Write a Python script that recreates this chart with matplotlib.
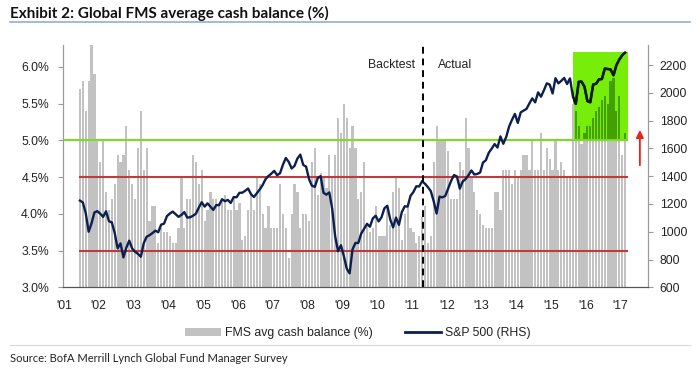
import numpy as np
import pandas as pd
import matplotlib
matplotlib.use("Agg")
import matplotlib.pyplot as plt
from matplotlib.patches import Rectangle, Patch
from matplotlib.lines import Line2D
from matplotlib.ticker import FuncFormatter

# ---------------- data ----------------
first_month = "2001-06"
last_month = "2017-02"

fms_cash = [
    # 2001 Jun-Dec
    5.7, 5.8, 5.4, 5.8, 6.3, 5.9, 5.0,
    # 2002
    4.7, 5.0, 4.3, 4.05, 4.2, 4.4, 4.8, 4.7, 4.8, 5.2, 4.6, 4.4,
    # 2003
    4.2, 4.9, 5.4, 4.6, 4.9, 3.9, 4.1, 4.1, 3.6, 3.8, 3.75, 3.75,
    # 2004
    3.7, 3.6, 3.6, 3.8, 4.5, 3.8, 4.2, 4.2, 4.8, 4.7, 4.4, 4.6,
    # 2005
    3.9, 4.05, 4.3, 4.2, 4.2, 4.15, 4.2, 4.25, 4.05, 4.05, 4.2, 4.05,
    # 2006
    4.15, 3.65, 3.7, 4.05, 4.25, 4.05, 4.5, 4.4, 4.0, 3.8, 4.1, 3.8,
    # 2007
    3.8, 3.8, 4.4, 4.0, 3.8, 3.4, 4.0, 4.4, 4.3, 3.8, 4.0, 4.0,
    # 2008
    3.9, 4.7, 4.9, 4.25, 4.55, 4.5, 4.35, 4.8, 4.5, 4.8, 5.3, 5.1,
    # 2009
    5.5, 5.3, 4.9, 5.2, 4.9, 4.2, 4.3, 4.7, 3.85, 3.75, 3.8, 4.1,
    # 2010
    3.7, 3.7, 3.7, 4.1, 3.85, 4.3, 4.5, 4.35, 3.65, 4.0, 4.1, 3.8,
    # 2011
    3.75, 3.6, 3.7, 3.95, 4.1, 3.6, 3.7, 4.7, 5.2, 5.0, 5.0, 5.0,
    # 2012
    4.85, 4.2, 4.2, 4.2, 4.7, 4.6, 5.3, 4.9, 4.5, 4.3, 4.05, 4.0,
    # 2013
    3.85, 3.8, 3.8, 3.8, 4.3, 4.3, 4.05, 4.6, 4.6, 4.6, 4.4, 4.6,
    # 2014
    4.5, 4.6, 4.8, 4.8, 4.6, 5.0, 4.6, 4.6, 5.1, 4.6, 4.9, 4.75,
    # 2015
    4.6, 5.0, 4.6, 4.7, 4.6, 4.5, 4.5, 5.5, 5.4, 5.2, 4.95, 5.1,
    # 2016
    5.2, 5.2, 5.3, 5.4, 5.45, 5.55, 5.6, 5.5, 5.8, 5.85, 5.4, 5.6,
    # 2017 Jan-Feb
    4.8, 5.1,
]

sp500 = [
    # 2001 Jun-Dec
    1224, 1211, 1134, 1000, 1060, 1139, 1148,
    # 2002
    1130, 1107, 1147, 1076, 1067, 990, 880, 916, 815, 885, 936, 880,
    # 2003
    856, 841, 820, 917, 964, 975, 990, 1008, 996, 1051, 1058, 1112,
    # 2004
    1131, 1145, 1126, 1107, 1121, 1141, 1102, 1104, 1115, 1130, 1174, 1212,
    # 2005
    1181, 1204, 1181, 1157, 1192, 1191, 1234, 1220, 1229, 1207, 1249, 1248,
    # 2006
    1280, 1281, 1295, 1311, 1270, 1250, 1277, 1304, 1336, 1378, 1401, 1418,
    # 2007
    1438, 1407, 1421, 1482, 1531, 1503, 1455, 1474, 1527, 1555, 1481, 1468,
    # 2008
    1379, 1331, 1323, 1386, 1400, 1280, 1267, 1283, 1165, 969, 860, 903,
    # 2009
    826, 735, 700, 873, 919, 919, 987, 1021, 1057, 1036, 1096, 1115,
    # 2010
    1074, 1104, 1169, 1187, 1089, 1031, 1102, 1049, 1141, 1183, 1181, 1258,
    # 2011
    1286, 1327, 1326, 1364, 1345, 1321, 1292, 1219, 1131, 1253, 1247, 1258,
    # 2012
    1312, 1366, 1408, 1398, 1310, 1362, 1379, 1407, 1441, 1412, 1416, 1426,
    # 2013
    1498, 1515, 1569, 1598, 1631, 1606, 1686, 1633, 1682, 1757, 1806, 1848,
    # 2014
    1783, 1859, 1872, 1884, 1924, 1960, 1931, 2003, 1972, 2018, 2068, 2059,
    # 2015
    1995, 2105, 2068, 2086, 2107, 2063, 2104, 1972, 1920, 2079, 2080, 2044,
    # 2016
    1940, 1932, 2060, 2065, 2097, 2099, 2174, 2171, 2168, 2126, 2199, 2239,
    # 2017 Jan-Feb
    2270, 2290,
]

year_labels = ["'01", "'02", "'03", "'04", "'05", "'06", "'07", "'08", "'09",
               "'10", "'11", "'12", "'13", "'14", "'15", "'16", "'17"]
left_ticks = [3.0, 3.5, 4.0, 4.5, 5.0, 5.5, 6.0]
right_ticks = [600, 800, 1000, 1200, 1400, 1600, 1800, 2000, 2200]
red_levels = [4.5, 3.5]
green_level = 5.0
split_month = "2011-05"
box_start, box_end = "2015-08", "2017-02"
box_top = 6.2

# ---------------- helpers ----------------
periods = pd.period_range(first_month, last_month, freq="M")


def mpos(p):
    p = pd.Period(p, freq="M")
    return (p.year - 2001) * 12 + (p.month - 1)


x = np.array([mpos(p) for p in periods]) + 0.5
vals = np.array(fms_cash)

plt.rcParams["font.family"] = ["Liberation Sans", "DejaVu Sans"]
fig = plt.figure(figsize=(7.0, 3.78), dpi=100)
ax = fig.add_axes([63 / 700, 1 - 287.3 / 378, (648 - 63) / 700, (287.3 - 45) / 378])
ax2 = ax.twinx()

XMIN, XMAX = -0.34, 201.4
ax.set_xlim(XMIN, XMAX)
ax.set_ylim(3.0, 6.296)
ax2.set_ylim(600, 2344)

bar_col = "#c2c2c2"
BW = 0.76
bx0 = mpos(box_start) + 0.6
bx1 = mpos(box_end) + 1.6

# green box (behind bars)
box = Rectangle((bx0, green_level), bx1 - bx0, box_top - green_level,
                facecolor="#76ee0a", edgecolor="none", zorder=0.5)
ax.add_patch(box)
clip_rect = Rectangle((bx0, green_level), bx1 - bx0, box_top - green_level,
                      transform=ax.transData, facecolor="none", edgecolor="none")

ax.bar(x, vals - 3.0, bottom=3.0, width=BW, color=bar_col, edgecolor="none",
       zorder=1)
# portion of bars inside the highlighted box appears darker green
inbox = (x - BW / 2 >= bx0 - 0.3) & (x + BW / 2 <= bx1 + 0.3) & (vals > green_level)
ax.bar(x[inbox], vals[inbox] - green_level, bottom=green_level, width=BW,
       color="#44a000", edgecolor="none", zorder=1.2)

# reference lines
ax.plot([XMIN, bx1], [green_level, green_level], color="#7bdc22", lw=1.5,
        zorder=2, solid_capstyle="butt")
for lv in red_levels:
    ax.plot([x[0] - 0.4, bx1], [lv, lv], color="#c4393c", lw=1.5, zorder=2,
            solid_capstyle="butt")

# S&P line
ax2.plot(x, sp500, color="#0c1f4f", lw=1.7, zorder=3)
dark = ax2.plot(x, sp500, color="#0e1a04", lw=1.8, zorder=3.1)[0]
dark.set_clip_path(clip_rect)

# split line
xs = mpos(split_month) - 0.1
ax2.axvline(xs, color="black", lw=1.4, ls=(0, (3.5, 2.5)), zorder=4)
ax2.text(xs - 3.0, 2200, "Backtest", ha="right", va="center", fontsize=8.8,
         color="#222222")
ax2.text(xs + 5.2, 2200, "Actual", ha="left", va="center", fontsize=8.8,
         color="#222222")

# red arrow
ax.annotate("", xy=(198.6, 5.14), xytext=(198.6, 4.66),
            arrowprops=dict(arrowstyle="-|>", color="#e8231c", lw=1.3,
                            mutation_scale=11, shrinkA=0, shrinkB=0),
            annotation_clip=False, zorder=5)

# axes styling
ax.set_xticks([12 * i for i in range(len(year_labels))])
ax.set_xticklabels(year_labels)
ax.set_yticks(left_ticks)
ax.yaxis.set_major_formatter(FuncFormatter(lambda v, p: f"{v:.1f}%"))
ax2.set_yticks(right_ticks)

for a in (ax, ax2):
    a.spines["top"].set_visible(False)
    a.spines["left"].set_color("#9a9a9a")
    a.spines["right"].set_color("#9a9a9a")
    a.spines["bottom"].set_color("#555555")
    a.set_facecolor("none")
ax.tick_params(axis="x", length=0, pad=9.5, labelsize=8.8, colors="#222222")
ax.tick_params(axis="y", length=3.5, width=0.8, color="#9a9a9a", pad=6.5,
               labelsize=8.8, labelcolor="#222222")
ax2.tick_params(axis="y", length=3.5, width=0.8, color="#9a9a9a", pad=5,
                labelsize=8.8, labelcolor="#222222")

# legend
handles = [Patch(facecolor=bar_col, edgecolor="none"),
           Line2D([], [], color="#0c1f4f", lw=2)]
fig.legend(handles, ["FMS avg cash balance (%)", "S&P 500 (RHS)"],
           loc="center", bbox_to_anchor=(0.511, 1 - 333 / 378), ncol=2,
           frameon=False, fontsize=8.8, handlelength=3.0, handleheight=0.6,
           handletextpad=0.3, columnspacing=2.6, labelcolor="#222222")

# title, rules, source
fig.text(10 / 700, 1 - 13 / 378, "Exhibit 2: Global FMS average cash balance (%)",
         fontsize=11, fontweight="bold", family=["Lato", "DejaVu Sans"],
         ha="left", va="center", color="#111111")
fig.add_artist(Line2D([10 / 700, 690 / 700], [1 - 22 / 378, 1 - 22 / 378],
                      color="#93aed0", lw=1.2))
fig.add_artist(Line2D([10 / 700, 690 / 700], [1 - 345 / 378, 1 - 345 / 378],
                      color="#d8d8d8", lw=0.8))
fig.text(10 / 700, 1 - 358 / 378,
         "Source: BofA Merrill Lynch Global Fund Manager Survey",
         fontsize=8, family=["Lato", "DejaVu Sans"], ha="left", va="center",
         color="#222222")

fig.savefig("out.png", dpi=100)
